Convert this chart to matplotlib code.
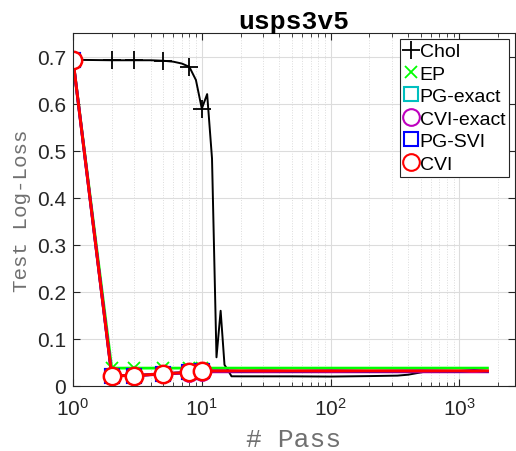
import numpy as np
import matplotlib
matplotlib.use('Agg')
import matplotlib.pyplot as plt
from matplotlib.lines import Line2D

# data (passes on log scale)
x_chol = [1, 2, 3, 4, 5, 6, 7, 8, 9, 10, 11, 12, 13, 14, 15, 16, 17,
          20, 30, 50, 100, 200, 330, 400, 530, 700, 1000, 1650]
y_chol = [0.693, 0.692, 0.692, 0.692, 0.691, 0.689, 0.685, 0.678, 0.650,
          0.589, 0.620, 0.483, 0.060, 0.159, 0.044, 0.032, 0.0196,
          0.0195, 0.0195, 0.0195, 0.019, 0.020, 0.021, 0.023, 0.029,
          0.030, 0.030, 0.030]
chol_marks = [1, 2, 3, 5, 8, 10]

x_fast = [1, 2, 3, 5, 8, 10, 12, 15, 20, 30, 50, 100, 200, 500, 1000, 1300, 1650]
y_ep = [0.693, 0.037, 0.037, 0.037, 0.037, 0.037, 0.037, 0.037, 0.037,
        0.037, 0.037, 0.037, 0.037, 0.037, 0.037, 0.037, 0.037]
y_pg_exact = [0.693, 0.021, 0.021, 0.025, 0.028, 0.030, 0.030, 0.030, 0.030,
              0.030, 0.030, 0.030, 0.030, 0.030, 0.030, 0.030, 0.030]
y_cvi_exact = [0.693, 0.021, 0.021, 0.024, 0.027, 0.029, 0.029, 0.029, 0.029,
               0.029, 0.029, 0.029, 0.029, 0.029, 0.029, 0.029, 0.029]
y_pg_svi = [0.693, 0.021, 0.021, 0.025, 0.028, 0.030, 0.031, 0.031, 0.030,
            0.031, 0.030, 0.031, 0.030, 0.031, 0.030, 0.032, 0.030]
y_cvi = [0.693, 0.021, 0.021, 0.025, 0.028, 0.030, 0.031, 0.031, 0.031,
         0.031, 0.031, 0.031, 0.031, 0.031, 0.031, 0.031, 0.031]
fast_marks = [0, 1, 2, 3, 4, 5]

labels = ['Chol', 'EP', 'PG-exact', 'CVI-exact', 'PG-SVI', 'CVI']

plt.rcParams['font.family'] = 'Liberation Sans'

fig = plt.figure(figsize=(5.16, 4.52), dpi=100)
ax = fig.add_axes([73 / 516, 65.5 / 452, 442 / 516, 352.5 / 452])

ax.plot(x_chol, y_chol, '-', color='k', lw=1.4, marker='+', markersize=13,
        mew=1.3, markevery=[x_chol.index(m) for m in chol_marks])
ax.plot(x_fast, y_ep, '-', color='#00ff00', lw=2, marker='x', markersize=9,
        mew=1.3, markevery=fast_marks)
ax.plot(x_fast, y_pg_exact, '-', color='c', lw=2, marker='s', markersize=9.5,
        mfc='none', mew=1.5, markevery=fast_marks)
ax.plot(x_fast, y_cvi_exact, '-', color='m', lw=2, marker='o', markersize=12,
        mfc='none', mew=1.5, markevery=fast_marks)
ax.plot(x_fast, y_pg_svi, '-', color='b', lw=2, marker='s', markersize=9.5,
        mfc='none', mew=1.5, markevery=fast_marks)
ax.plot(x_fast, y_cvi, '-', color='r', lw=2.2, marker='o', markersize=12.5,
        mfc='w', mew=1.8, markevery=fast_marks)

ax.set_xscale('log')
ax.set_xlim(1, 2700)
ax.set_ylim(0, 0.75)
ax.set_yticks(np.arange(0, 0.71, 0.1))
ax.set_yticklabels(['0', '0.1', '0.2', '0.3', '0.4', '0.5', '0.6', '0.7'])

ax.grid(True, which='major', color='#dcdcdc', lw=0.8, ls='-')
ax.grid(True, which='minor', axis='x', color='#dcdcdc', lw=0.7, ls=':')
ax.set_axisbelow(True)
ax.tick_params(which='both', direction='in', top=True, right=True,
               labelsize=15, colors='#262626', pad=5)
ax.tick_params(axis='x', which='major', pad=8)
ax.tick_params(which='major', length=5)
ax.tick_params(which='minor', length=3)
for s in ax.spines.values():
    s.set_color('#262626')
    s.set_linewidth(0.8)

ax.set_title('usps3v5', family='Liberation Mono', weight='bold', fontsize=19, pad=3)
ax.set_xlabel('# Pass', family='Liberation Mono', fontsize=19, color='#707070',
              labelpad=6)
ax.set_ylabel('Test Log-Loss', family='Liberation Mono', fontsize=15, color='#707070',
              labelpad=4)

handles = [
    Line2D([], [], ls='none', color='k', marker='+', markersize=13, mew=1.3),
    Line2D([], [], ls='none', color='#00ff00', marker='x', markersize=9, mew=1.3),
    Line2D([], [], ls='none', color='c', marker='s', markersize=10, mfc='none', mew=1.5),
    Line2D([], [], ls='none', color='m', marker='o', markersize=12, mfc='none', mew=1.5),
    Line2D([], [], ls='none', color='b', marker='s', markersize=10, mfc='none', mew=1.5),
    Line2D([], [], ls='none', color='r', marker='o', markersize=12, mfc='none', mew=1.5),
]
leg = ax.legend(handles, labels, loc='upper right', fontsize=14,
                handlelength=0.7, handletextpad=0.1, labelspacing=0.25,
                borderpad=0.2, borderaxespad=0.3, fancybox=False,
                framealpha=1, edgecolor='#262626')
leg.get_frame().set_linewidth(0.8)

fig.savefig('out.png', dpi=100)
